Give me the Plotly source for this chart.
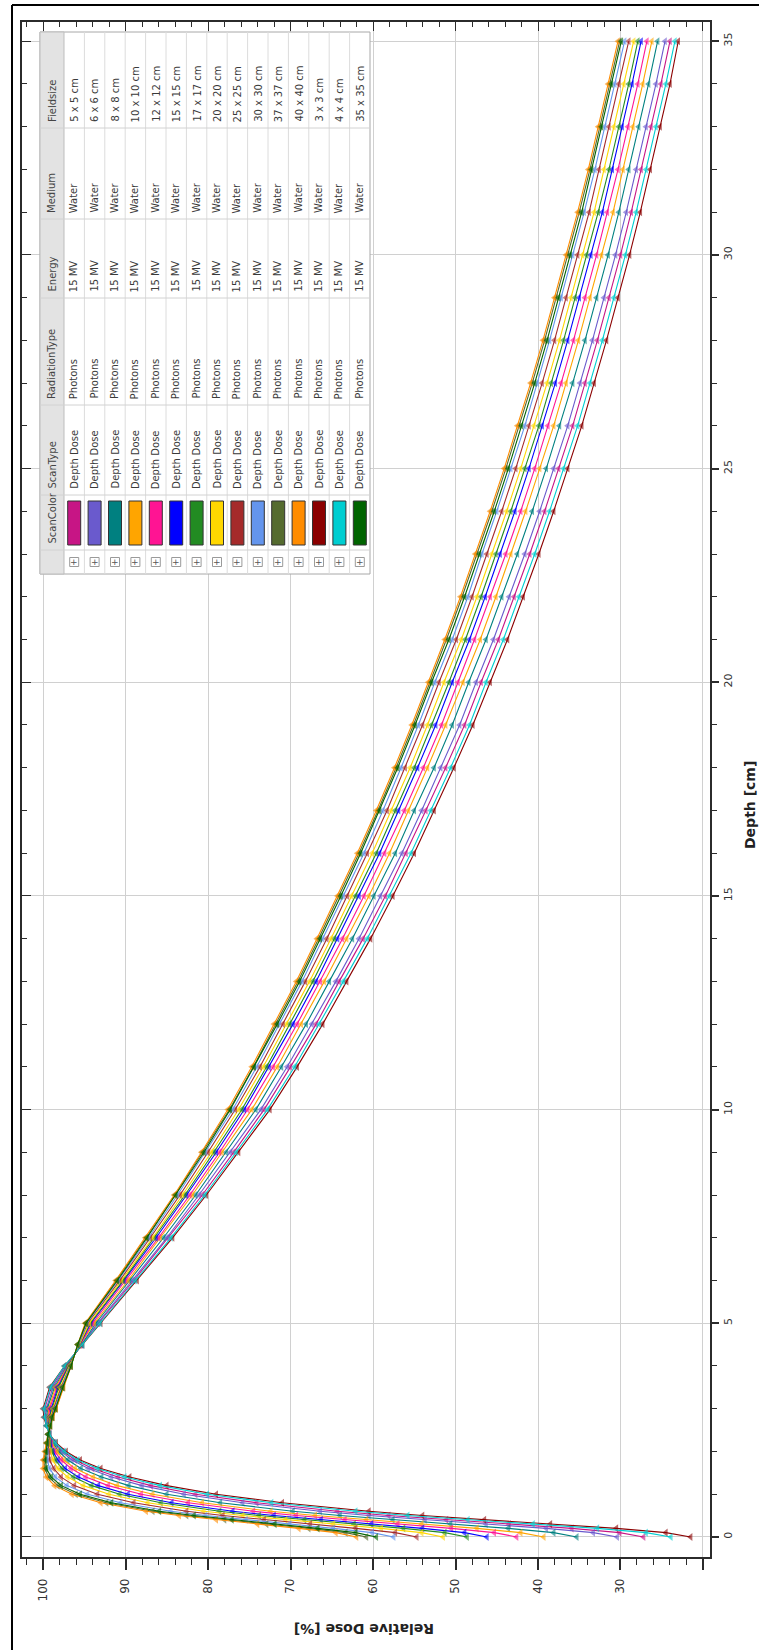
import plotly.graph_objects as go

# ---------------------------------------------------------------------------
# Depth-dose data, 15 MV photons in water
# ---------------------------------------------------------------------------
depth_cm = [0, 0.1, 0.2, 0.3, 0.4, 0.5, 0.6, 0.8, 1.0, 1.2, 1.4, 1.6, 1.8, 2.0,
            2.2, 2.4, 2.6, 2.8, 3.0, 3.5, 4.0, 4.5, 5, 6, 7, 8, 9, 10, 11, 12,
            13, 14, 15, 16, 17, 18, 19, 20, 21, 22, 23, 24, 25, 26, 27, 28, 29,
            30, 31, 32, 33, 34, 35]

pdd_3x3 = [21.5, 24.5, 30.5, 38.5, 46.5, 54.0, 60.5, 71.0, 79.0, 85.0, 89.5, 93.0, 95.5, 97.2, 98.4, 99.2, 99.6, 99.9, 100.0,
           99.2, 97.4, 95.2, 93.0, 88.6, 84.3, 80.2, 76.3, 72.5, 69.2, 66.1, 63.2, 60.3, 57.6, 55.0, 52.6, 50.2, 47.9, 45.8, 43.7, 41.8, 39.9, 38.1, 36.4, 34.7, 33.2, 31.7, 30.3, 28.9, 27.6, 26.4, 25.2, 24.0, 23.0]
pdd_4x4 = [23.9, 26.9, 32.8, 40.6, 48.5, 55.8, 62.1, 72.3, 80.1, 85.8, 90.1, 93.4, 95.8, 97.4, 98.5, 99.2, 99.6, 99.8, 99.9,
           99.1, 97.4, 95.2, 93.1, 88.8, 84.5, 80.4, 76.6, 72.8, 69.5, 66.5, 63.6, 60.7, 58.0, 55.4, 53.0, 50.6, 48.3, 46.3, 44.2, 42.3, 40.4, 38.6, 36.9, 35.2, 33.7, 32.2, 30.8, 29.4, 28.1, 26.9, 25.7, 24.5, 23.4]
pdd_5x5 = [27.2, 30.1, 35.9, 43.5, 51.1, 58.1, 64.3, 74.1, 81.5, 86.9, 90.9, 94.0, 96.1, 97.6, 98.6, 99.2, 99.5, 99.7, 99.8,
           99.0, 97.3, 95.3, 93.3, 89.0, 84.8, 80.7, 76.9, 73.2, 70.0, 66.9, 64.1, 61.2, 58.5, 56.0, 53.6, 51.2, 48.9, 46.9, 44.8, 42.9, 41.0, 39.2, 37.5, 35.8, 34.3, 32.8, 31.4, 30.0, 28.7, 27.5, 26.3, 25.1, 24.0]
pdd_6x6 = [30.4, 33.3, 39.0, 46.3, 53.7, 60.5, 66.4, 75.8, 82.9, 88.0, 91.7, 94.5, 96.5, 97.8, 98.7, 99.2, 99.5, 99.7, 99.6,
           98.8, 97.2, 95.3, 93.4, 89.2, 85.0, 81.1, 77.3, 73.6, 70.4, 67.4, 64.5, 61.7, 59.1, 56.5, 54.1, 51.8, 49.5, 47.5, 45.4, 43.5, 41.6, 39.8, 38.1, 36.4, 34.9, 33.4, 32.0, 30.6, 29.3, 28.1, 26.9, 25.7, 24.6]
pdd_8x8 = [35.3, 38.1, 43.6, 50.6, 57.6, 64.0, 69.7, 78.5, 85.0, 89.6, 92.9, 95.4, 97.0, 98.1, 98.8, 99.3, 99.4, 99.5, 99.5,
           98.6, 97.1, 95.4, 93.6, 89.5, 85.4, 81.5, 77.8, 74.2, 71.1, 68.1, 65.3, 62.5, 59.9, 57.3, 55.0, 52.6, 50.4, 48.4, 46.3, 44.4, 42.5, 40.7, 39.0, 37.4, 35.8, 34.3, 32.9, 31.5, 30.2, 29.0, 27.8, 26.6, 25.5]
pdd_10x10 = [39.3, 42.1, 47.4, 54.1, 60.8, 67.0, 72.4, 80.7, 86.7, 91.0, 93.9, 96.1, 97.5, 98.3, 98.9, 99.3, 99.4, 99.4, 99.3,
             98.5, 97.0, 95.5, 93.8, 89.7, 85.8, 81.9, 78.3, 74.7, 71.6, 68.7, 65.9, 63.2, 60.5, 58.0, 55.7, 53.4, 51.2, 49.1, 47.0, 45.1, 43.3, 41.5, 39.8, 38.1, 36.6, 35.1, 33.7, 32.3, 30.9, 29.7, 28.5, 27.3, 26.2]
pdd_12x12 = [42.6, 45.3, 50.5, 57.0, 63.4, 69.3, 74.5, 82.4, 88.1, 92.1, 94.8, 96.6, 97.8, 98.6, 99.0, 99.3, 99.3, 99.3, 99.2,
             98.3, 97.0, 95.5, 94.0, 90.0, 86.0, 82.2, 78.6, 75.2, 72.1, 69.2, 66.4, 63.7, 61.1, 58.6, 56.2, 53.9, 51.7, 49.7, 47.7, 45.8, 43.9, 42.1, 40.4, 38.8, 37.2, 35.7, 34.3, 32.9, 31.6, 30.3, 29.1, 27.9, 26.8]
pdd_15x15 = [46.2, 48.9, 54.0, 60.2, 66.3, 72.0, 77.0, 84.4, 89.7, 93.3, 95.7, 97.3, 98.2, 98.8, 99.1, 99.3, 99.3, 99.2, 99.0,
             98.2, 96.9, 95.6, 94.2, 90.2, 86.3, 82.6, 79.0, 75.6, 72.6, 69.7, 66.9, 64.3, 61.7, 59.2, 56.9, 54.6, 52.4, 50.4, 48.3, 46.4, 44.6, 42.8, 41.1, 39.5, 37.9, 36.4, 35.0, 33.6, 32.2, 31.0, 29.8, 28.6, 27.5]
pdd_17x17 = [48.6, 51.3, 56.3, 62.3, 68.3, 73.8, 78.6, 85.7, 90.7, 94.1, 96.3, 97.7, 98.5, 98.9, 99.2, 99.3, 99.3, 99.2, 98.9,
             98.1, 96.9, 95.6, 94.3, 90.3, 86.5, 82.8, 79.3, 75.9, 72.9, 70.1, 67.3, 64.7, 62.1, 59.6, 57.3, 55.0, 52.9, 50.8, 48.8, 46.9, 45.1, 43.3, 41.6, 39.9, 38.4, 36.9, 35.5, 34.1, 32.7, 31.4, 30.2, 29.0, 27.9]
pdd_20x20 = [51.5, 54.1, 59.0, 64.8, 70.6, 75.8, 80.5, 87.3, 92.0, 95.1, 97.0, 98.2, 98.8, 99.1, 99.3, 99.3, 99.2, 99.1, 98.8,
             97.9, 96.8, 95.6, 94.4, 90.5, 86.7, 83.1, 79.6, 76.3, 73.3, 70.5, 67.7, 65.1, 62.6, 60.1, 57.8, 55.5, 53.4, 51.4, 49.3, 47.4, 45.6, 43.8, 42.1, 40.5, 38.9, 37.4, 36.0, 34.6, 33.2, 32.0, 30.8, 29.6, 28.4]
pdd_25x25 = [54.7, 57.3, 62.1, 67.6, 73.2, 78.2, 82.6, 89.0, 93.4, 96.2, 97.8, 98.7, 99.2, 99.3, 99.4, 99.4, 99.2, 99.0, 98.7,
             97.8, 96.7, 95.7, 94.6, 90.7, 87.0, 83.4, 80.0, 76.7, 73.7, 70.9, 68.2, 65.6, 63.1, 60.7, 58.3, 56.1, 54.0, 52.0, 49.9, 48.0, 46.2, 44.4, 42.7, 41.1, 39.5, 38.0, 36.6, 35.2, 33.8, 32.6, 31.4, 30.2, 29.0]
pdd_30x30 = [57.5, 60.1, 64.8, 70.1, 75.4, 80.3, 84.5, 90.6, 94.6, 97.1, 98.5, 99.2, 99.5, 99.5, 99.5, 99.4, 99.2, 98.9, 98.6,
             97.7, 96.7, 95.7, 94.7, 90.9, 87.2, 83.7, 80.3, 77.0, 74.1, 71.4, 68.6, 66.1, 63.6, 61.1, 58.8, 56.6, 54.5, 52.5, 50.4, 48.5, 46.8, 45.0, 43.3, 41.6, 40.1, 38.6, 37.2, 35.8, 34.4, 33.1, 31.9, 30.7, 29.5]
pdd_35x35 = [59.6, 62.1, 66.7, 71.9, 77.1, 81.7, 85.9, 91.7, 95.5, 97.8, 99.0, 99.6, 99.7, 99.6, 99.5, 99.4, 99.1, 98.9, 98.5,
             97.6, 96.6, 95.8, 94.8, 91.0, 87.4, 83.9, 80.5, 77.3, 74.4, 71.6, 68.9, 66.4, 63.9, 61.5, 59.2, 57.0, 54.9, 52.9, 50.8, 48.9, 47.1, 45.3, 43.6, 42.0, 40.4, 38.9, 37.5, 36.1, 34.7, 33.5, 32.3, 31.1, 29.9]
pdd_37x37 = [60.8, 63.3, 67.8, 72.9, 78.0, 82.6, 86.7, 92.3, 96.0, 98.2, 99.3, 99.8, 99.9, 99.7, 99.6, 99.4, 99.1, 98.8, 98.4,
             97.6, 96.6, 95.8, 94.8, 91.1, 87.5, 84.0, 80.7, 77.4, 74.5, 71.8, 69.1, 66.6, 64.1, 61.7, 59.4, 57.2, 55.1, 53.1, 51.1, 49.2, 47.4, 45.6, 43.9, 42.3, 40.7, 39.2, 37.8, 36.4, 35.0, 33.7, 32.5, 31.3, 30.1]
pdd_40x40 = [62.0, 64.5, 69.0, 74.0, 79.0, 83.5, 87.5, 93.0, 96.5, 98.6, 99.6, 100.0, 100.0, 99.8, 99.6, 99.4, 99.1, 98.8, 98.4,
             97.5, 96.6, 95.8, 94.9, 91.2, 87.6, 84.1, 80.8, 77.6, 74.7, 72.0, 69.3, 66.8, 64.3, 61.9, 59.6, 57.4, 55.3, 53.3, 51.3, 49.4, 47.6, 45.8, 44.1, 42.5, 40.9, 39.4, 38.0, 36.6, 35.2, 33.9, 32.7, 31.5, 30.3]

# Scan list, in the order of the scan table
field_sizes = ["5 x 5 cm", "6 x 6 cm", "8 x 8 cm", "10 x 10 cm", "12 x 12 cm",
               "15 x 15 cm", "17 x 17 cm", "20 x 20 cm", "25 x 25 cm", "30 x 30 cm",
               "37 x 37 cm", "40 x 40 cm", "3 x 3 cm", "4 x 4 cm", "35 x 35 cm"]
scan_colors = ["#C71585", "#6A5ACD", "#008080", "#FFA500", "#FF1493",
               "#0000FF", "#228B22", "#FFD700", "#A52A2A", "#6495ED",
               "#556B2F", "#FF8C00", "#8B0000", "#00CED1", "#006400"]
scan_doses = [pdd_5x5, pdd_6x6, pdd_8x8, pdd_10x10, pdd_12x12,
              pdd_15x15, pdd_17x17, pdd_20x20, pdd_25x25, pdd_30x30,
              pdd_37x37, pdd_40x40, pdd_3x3, pdd_4x4, pdd_35x35]
scan_type = "Depth Dose"
radiation_type = "Photons"
energy = "15 MV"
medium = "Water"
table_headers = ["ScanColor", "ScanType", "RadiationType", "Energy", "Medium", "Fieldsize"]

dose_ticks = [20, 30, 40, 50, 60, 70, 80, 90, 100]
depth_ticks = [0, 5, 10, 15, 20, 25, 30, 35]

# ---------------------------------------------------------------------------
# Page geometry (pixels) -- the chart is laid out turned a quarter turn
# ---------------------------------------------------------------------------
W, H = 759, 1650
PL, PR, PT, PB = 22, 710, 22, 1557
DOSE_RANGE = [102.55, 19.15]
DEPTH_RANGE = [-0.47, 35.45]
FONT = "DejaVu Sans"


def px(x):
    return (x - PL) / (PR - PL)


def py(y):
    return (PB - y) / (PB - PT)


fig = go.Figure()

for name, color, dose in zip(field_sizes, scan_colors, scan_doses):
    n = min(len(dose), len(depth_cm))
    fig.add_trace(go.Scatter(
        x=dose[:n], y=depth_cm[:n], name=name, mode="lines+markers",
        line=dict(color=color, width=1.1),
        marker=dict(symbol="triangle-left", size=7, color=color, opacity=0.6),
        showlegend=False,
    ))

# dummy trace so the mirrored (inside-tick) axes are drawn
fig.add_trace(go.Scatter(x=[None], y=[None], xaxis="x2", yaxis="y2",
                         showlegend=False, hoverinfo="skip"))

axis_line = "#2b2b2b"
grid = "#d0d0d0"

fig.update_layout(
    width=W, height=H, autosize=False,
    margin=dict(l=PL, r=W - PR, t=PT, b=H - PB, pad=0),
    paper_bgcolor="white", plot_bgcolor="white",
    font=dict(family=FONT, color="#333333"),
    xaxis=dict(
        range=DOSE_RANGE, tickmode="array", tickvals=dose_ticks,
        ticktext=["" if v == 20 else str(v) for v in dose_ticks],
        tickangle=-90, tickfont=dict(size=12, color="#333"),
        ticks="outside", ticklen=11, tickwidth=1.5, tickcolor=axis_line,
        minor=dict(tickmode="linear", tick0=0, dtick=2, ticks="outside",
                   ticklen=6, tickwidth=1.2, tickcolor=axis_line, showgrid=False),
        showline=True, linecolor=axis_line, linewidth=1.5,
        showgrid=True, gridcolor=grid, gridwidth=1, zeroline=False,
        ticklabelstandoff=4,
    ),
    yaxis=dict(
        range=DEPTH_RANGE, side="right", tickmode="array", tickvals=depth_ticks,
        tickangle=-90, tickfont=dict(size=11, color="#333"),
        ticks="outside", ticklen=7, tickwidth=1.5, tickcolor=axis_line,
        minor=dict(tickmode="linear", tick0=0, dtick=1, ticks="outside",
                   ticklen=5, tickwidth=1.2, tickcolor=axis_line, showgrid=False),
        showline=True, linecolor=axis_line, linewidth=1.5,
        showgrid=True, gridcolor=grid, gridwidth=1, zeroline=False,
    ),
    xaxis2=dict(
        range=DOSE_RANGE, overlaying="x", side="top", anchor="y",
        tickmode="linear", tick0=0, dtick=10, ticks="inside", ticklen=9,
        tickwidth=1.3, tickcolor=axis_line, showticklabels=False,
        minor=dict(tickmode="linear", tick0=0, dtick=2, ticks="inside",
                   ticklen=5, tickcolor=axis_line),
        showline=True, linecolor=axis_line, linewidth=1.5, showgrid=False,
        zeroline=False,
    ),
    yaxis2=dict(
        range=DEPTH_RANGE, overlaying="y", side="left", anchor="x",
        tickmode="linear", tick0=0, dtick=5, ticks="inside", ticklen=9,
        tickwidth=1.3, tickcolor=axis_line, showticklabels=False,
        minor=dict(tickmode="linear", tick0=0, dtick=1, ticks="inside",
                   ticklen=5, tickcolor=axis_line),
        showline=True, linecolor=axis_line, linewidth=1.5, showgrid=False,
        zeroline=False,
    ),
)

shapes = []
annotations = []

# outer frame of the picture
shapes.append(dict(type="line", xref="paper", yref="paper",
                   x0=px(12), x1=px(W + 5), y0=py(5), y1=py(5),
                   line=dict(color="black", width=2)))
shapes.append(dict(type="line", xref="paper", yref="paper",
                   x0=px(12), x1=px(12), y0=py(5), y1=py(H + 5),
                   line=dict(color="black", width=2)))

# axis titles
annotations.append(dict(text="<b>Relative Dose [%]</b>", xref="paper", yref="paper",
                        x=px(364), y=py(1629), showarrow=False, textangle=180,
                        xanchor="center", yanchor="middle",
                        font=dict(size=14, color="#222", family=FONT)))
annotations.append(dict(text="<b>Depth [cm]</b>", xref="paper", yref="paper",
                        x=px(750), y=py(805), showarrow=False, textangle=-90,
                        xanchor="center", yanchor="middle",
                        font=dict(size=14, color="#222", family=FONT)))

# ---------------------------------------------------------------------------
# scan table (turned with the chart: columns run bottom -> top)
# ---------------------------------------------------------------------------
TX0, HDR_W, ROW_W = 40, 24, 20.4
TX1 = TX0 + HDR_W + ROW_W * len(field_sizes)
# (top, bottom) pixel band of every column, top of page first
col_fieldsize = (32, 128)
col_medium = (128, 219)
col_energy = (219, 298)
col_radiation = (298, 405)
col_scantype = (405, 495)
col_scancolor = (495, 550)
col_expand = (550, 574)
T_TOP, T_BOT = 32, 574

shapes.append(dict(type="rect", xref="paper", yref="paper",
                   x0=px(TX0), x1=px(TX1), y0=py(T_BOT), y1=py(T_TOP),
                   fillcolor="white", line=dict(color="#a8a8a8", width=1), layer="above"))
shapes.append(dict(type="rect", xref="paper", yref="paper",
                   x0=px(TX0), x1=px(TX0 + HDR_W), y0=py(T_BOT), y1=py(T_TOP),
                   fillcolor="#e3e3e3", line=dict(color="#bdbdbd", width=1), layer="above"))
for i in range(1, len(field_sizes)):
    xx = TX0 + HDR_W + i * ROW_W
    shapes.append(dict(type="line", xref="paper", yref="paper",
                       x0=px(xx), x1=px(xx), y0=py(T_BOT), y1=py(T_TOP),
                       line=dict(color="#dcdcdc", width=1), layer="above"))
for band in [col_fieldsize, col_medium, col_energy, col_radiation, col_scantype, col_scancolor]:
    shapes.append(dict(type="line", xref="paper", yref="paper",
                       x0=px(TX0), x1=px(TX1), y0=py(band[1]), y1=py(band[1]),
                       line=dict(color="#d2d2d2", width=1), layer="above"))

cell_font = dict(size=10, color="#3a3a3a", family=FONT)


def cell_text(text, xc, band, font=cell_font):
    annotations.append(dict(text=text, xref="paper", yref="paper",
                            x=px(xc), y=py(band[1] - 4), xanchor="center",
                            yanchor="bottom", showarrow=False, textangle=-90,
                            font=font))


hdr_xc = TX0 + HDR_W / 2
hdr_font = dict(size=10, color="#444", family=FONT)
for label, band in zip(table_headers,
                       [col_scancolor, col_scantype, col_radiation,
                        col_energy, col_medium, col_fieldsize]):
    cell_text(label, hdr_xc, band, hdr_font)

for i, (fs, color) in enumerate(zip(field_sizes, scan_colors)):
    xc = TX0 + HDR_W + (i + 0.5) * ROW_W
    cell_text(fs, xc, col_fieldsize)
    cell_text(medium, xc, col_medium)
    cell_text(energy, xc, col_energy)
    cell_text(radiation_type, xc, col_radiation)
    cell_text(scan_type, xc, col_scantype)
    # colour swatch
    shapes.append(dict(type="rect", xref="paper", yref="paper",
                       x0=px(xc - 6.5), x1=px(xc + 6.5),
                       y0=py(col_scancolor[1] - 5), y1=py(col_scancolor[0] + 6),
                       fillcolor=color, line=dict(color="#333", width=1), layer="above"))
    # expander box
    ym = (col_expand[0] + col_expand[1]) / 2
    shapes.append(dict(type="rect", xref="paper", yref="paper",
                       x0=px(xc - 4.5), x1=px(xc + 4.5), y0=py(ym + 4.5), y1=py(ym - 4.5),
                       fillcolor="white", line=dict(color="#9a9a9a", width=1), layer="above"))
    annotations.append(dict(text="+", xref="paper", yref="paper", x=px(xc), y=py(ym),
                            xanchor="center", yanchor="middle", showarrow=False,
                            font=dict(size=9, color="#555", family=FONT)))

fig.update_layout(shapes=shapes, annotations=annotations)
fig.write_html("out.html")
